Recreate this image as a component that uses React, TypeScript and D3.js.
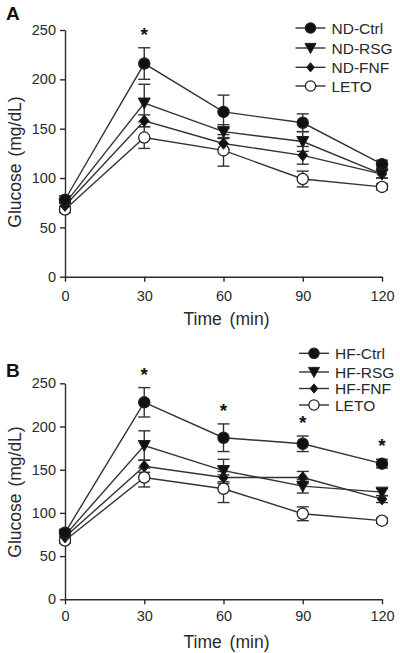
import React, { useEffect, useRef } from "react";
import * as d3 from "d3";

const times = [0, 30, 60, 90, 120];
const yTicks = [0, 50, 100, 150, 200, 250];

// Panel A
const ndCtrl = [78, 216, 167, 156, 114];
const ndCtrlErr = [4, 16, 17, 9, 4];
const ndRsg = [74, 176, 147, 137, 104];
const ndRsgErr = [3, 19, 7, 10, 4];
const ndFnf = [72, 158, 135, 123, 104];
const ndFnfErr = [3, 6, 6, 9, 4];
const leto = [68, 141, 128, 99, 91];
const letoErr = [3, 11, 16, 8, 3];
const starsA = [30];

// Panel B
const hfCtrl = [77, 228, 187, 180, 157];
const hfCtrlErr = [4, 17, 16, 9, 5];
const hfRsg = [74, 178, 149, 131, 124];
const hfRsgErr = [3, 17, 13, 8, 4];
const hfFnf = [72, 154, 141, 141, 116];
const hfFnfErr = [3, 7, 7, 7, 4];
const starsB = [30, 60, 90, 120];

const namesA = ["ND-Ctrl", "ND-RSG", "ND-FNF", "LETO"];
const namesB = ["HF-Ctrl", "HF-RSG", "HF-FNF", "LETO"];

const FONT = "'Liberation Sans', Arial, Helvetica, sans-serif";
const INK = "#2a2a2a";

type Shape = "circle" | "tri" | "diamond" | "open";
const shapes: Shape[] = ["circle", "tri", "diamond", "open"];

function drawMarker(g: any, shape: Shape, x: number, y: number, s = 1) {
  if (shape === "circle" || shape === "open") {
    g.append("circle")
      .attr("cx", x)
      .attr("cy", y)
      .attr("r", 5.6 * s)
      .attr("fill", shape === "circle" ? "#111" : "#fff")
      .attr("stroke", "#222")
      .attr("stroke-width", 1.3);
  } else if (shape === "tri") {
    const w = 6 * s, h = 5 * s;
    g.append("path")
      .attr("d", `M${x - w},${y - h}L${x + w},${y - h}L${x},${y + 6 * s}Z`)
      .attr("fill", "#111")
      .attr("stroke", "#222")
      .attr("stroke-width", 1);
  } else {
    const w = 4.8 * s, h = 5.8 * s;
    g.append("path")
      .attr("d", `M${x},${y - h}L${x + w},${y}L${x},${y + h}L${x - w},${y}Z`)
      .attr("fill", "#111")
      .attr("stroke", "#222")
      .attr("stroke-width", 1);
  }
}

interface PanelCfg {
  letter: string;
  letterY: number;
  yTop: number;
  yBottom: number;
  series: number[][];
  errs: number[][];
  names: string[];
  stars: number[];
  legendX: number;
  legendRows: number[];
  xLabelY: number;
  titleY: number;
  yTitleCenter: number;
}

function drawPanel(svg: any, cfg: PanelCfg) {
  const x = d3.scaleLinear().domain([0, 120]).range([65, 382]);
  const y = d3.scaleLinear().domain([0, 250]).range([cfg.yBottom, cfg.yTop]);
  const g = svg.append("g");

  // axes
  const ya = g.append("g").attr("transform", `translate(${x(0)},0)`)
    .call(d3.axisLeft(y).tickValues(yTicks).tickSize(5).tickSizeOuter(0).tickPadding(4));
  const xa = g.append("g").attr("transform", `translate(0,${y(0)})`)
    .call(d3.axisBottom(x).tickValues(times).tickSize(5).tickSizeOuter(0).tickPadding(6));
  [ya, xa].forEach((a: any) => {
    a.select(".domain").attr("stroke", INK).attr("stroke-width", 1.4);
    a.selectAll(".tick line").attr("stroke", INK).attr("stroke-width", 1.4);
    a.selectAll(".tick text").attr("fill", INK).attr("font-size", 14.5).attr("font-family", FONT);
  });
  xa.selectAll(".tick text").attr("dy", null).attr("y", cfg.xLabelY - y(0)).attr("dominant-baseline", null);

  // titles
  g.append("text").attr("x", (x(0) + x(120)) / 2 + 3).attr("y", cfg.titleY)
    .attr("text-anchor", "middle").attr("font-size", 17.5).attr("font-family", FONT)
    .attr("fill", INK).attr("word-spacing", 3).text("Time (min)");
  g.append("text")
    .attr("transform", `translate(21,${cfg.yTitleCenter}) rotate(-90)`)
    .attr("text-anchor", "middle").attr("font-size", 17.5).attr("font-family", FONT)
    .attr("fill", INK).attr("word-spacing", 2).text("Glucose (mg/dL)");
  g.append("text").attr("x", 6).attr("y", cfg.letterY).attr("font-size", 19)
    .attr("font-weight", "bold").attr("font-family", FONT).attr("fill", "#111").text(cfg.letter);

  const line = d3.line<number>().x((_, i) => x(times[i])).y((d) => y(d));
  // lines
  cfg.series.forEach((s) => {
    g.append("path").attr("d", line(s)).attr("fill", "none")
      .attr("stroke", "#333").attr("stroke-width", 1.4);
  });
  // error bars
  cfg.series.forEach((s, si) => {
    s.forEach((v, i) => {
      const e = cfg.errs[si][i];
      const cx = x(times[i]);
      const t = y(v + e), b = y(v - e);
      g.append("line").attr("x1", cx).attr("x2", cx).attr("y1", t).attr("y2", b)
        .attr("stroke", "#333").attr("stroke-width", 1.4);
      [t, b].forEach((yy) => {
        g.append("line").attr("x1", cx - 6).attr("x2", cx + 6).attr("y1", yy).attr("y2", yy)
          .attr("stroke", "#333").attr("stroke-width", 1.4);
      });
    });
  });
  // markers
  [3, 2, 1, 0].forEach((si) => {
    cfg.series[si].forEach((v, i) => drawMarker(g, shapes[si], x(times[i]), y(v)));
  });
  // stars
  cfg.stars.forEach((t) => {
    const i = times.indexOf(t);
    const top = y(cfg.series[0][i] + cfg.errs[0][i]);
    g.append("text").attr("x", x(t)).attr("y", top - 7)
      .attr("text-anchor", "middle").attr("font-size", 19).attr("font-weight", "bold")
      .attr("font-family", FONT).attr("fill", "#111").text("*");
  });
  // legend
  cfg.names.forEach((n, i) => {
    const ry = cfg.legendRows[i];
    const lx = cfg.legendX;
    g.append("line").attr("x1", lx - 15).attr("x2", lx + 15).attr("y1", ry).attr("y2", ry)
      .attr("stroke", "#333").attr("stroke-width", 1.4);
    drawMarker(g, shapes[i], lx, ry, shapes[i] === "diamond" ? 0.8 : 0.92);
    g.append("text").attr("x", lx + 21).attr("y", ry + 5.5).attr("font-size", 15.5)
      .attr("font-family", FONT).attr("fill", INK).text(n);
  });
}

export default function App() {
  const ref = useRef<SVGSVGElement>(null);
  useEffect(() => {
    const svg = d3.select(ref.current);
    svg.selectAll("*").remove();
    drawPanel(svg, {
      letter: "A", letterY: 20, yTop: 30, yBottom: 276.7,
      series: [ndCtrl, ndRsg, ndFnf, leto], errs: [ndCtrlErr, ndRsgErr, ndFnfErr, letoErr],
      names: namesA, stars: starsA, legendX: 310.5, legendRows: [28, 48, 67.3, 86],
      xLabelY: 301.5, titleY: 325, yTitleCenter: 162,
    });
    drawPanel(svg, {
      letter: "B", letterY: 377, yTop: 383.3, yBottom: 599.3,
      series: [hfCtrl, hfRsg, hfFnf, leto], errs: [hfCtrlErr, hfRsgErr, hfFnfErr, letoErr],
      names: namesB, stars: starsB, legendX: 314, legendRows: [353.3, 372, 388.5, 405],
      xLabelY: 621.5, titleY: 648, yTitleCenter: 492,
    });
  }, []);
  return (
    <svg ref={ref} width={400} height={653}
      style={{ position: "absolute", left: 0, top: 0, background: "#fff" }} />
  );
}
